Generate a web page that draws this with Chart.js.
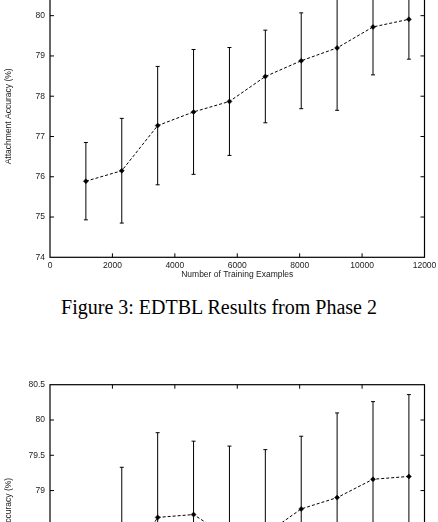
<!DOCTYPE html>
<html>
<head>
<meta charset="utf-8">
<title>EDTBL Results</title>
<script src="https://cdn.jsdelivr.net/npm/chart.js@4/dist/chart.umd.min.js"></script>
<style>
  html, body { margin: 0; padding: 0; background: #fff; overflow: hidden; }
  #page { position: relative; width: 438px; height: 522px; overflow: hidden; background: #fff; }
  .plot { position: absolute; left: 0; width: 438px; height: 320px; }
  #fig-top { top: -40px; }
  #fig-bottom { top: 370px; }
  #caption {
    position: absolute; left: 0; top: 297px; width: 438px;
    text-align: center; white-space: nowrap; color: #000;
    font-family: 'Liberation Serif', 'Times New Roman', serif;
    font-size: 20px; line-height: 20px;
  }
</style>
</head>
<body>
<div id="page">
  <canvas id="fig-top" class="plot" width="438" height="320"></canvas>
  <div id="caption">Figure 3: EDTBL Results from Phase 2</div>
  <canvas id="fig-bottom" class="plot" width="438" height="320"></canvas>
</div>
<script>
// training set sizes (shared by both plots)
var trainSizes = [1150, 2300, 3450, 4600, 5750, 6900, 8050, 9200, 10350, 11500];

// upper plot: Phase 2
var phase2Acc = [75.89, 76.15, 77.27, 77.61, 77.87, 78.49, 78.88, 79.20, 79.72, 79.91];
var phase2Err = [0.96, 1.30, 1.47, 1.55, 1.34, 1.15, 1.19, 1.55, 1.19, 0.99];

// lower plot (only its upper part is on the page)
var lowerAcc = [77.0, 77.8, 78.62, 78.66, 78.33, 78.38, 78.74, 78.90, 79.16, 79.20];
var lowerErr = [1.20, 1.53, 1.20, 1.04, 1.30, 1.20, 1.03, 1.20, 1.10, 1.16];

var xTicks = [0, 2000, 4000, 6000, 8000, 10000, 12000];
var topYTicks = [74, 75, 76, 77, 78, 79, 80, 81];
var lowerYTicks = [76.5, 77, 77.5, 78, 78.5, 79, 79.5, 80, 80.5];

var xTitle = 'Number of Training Examples';
var yTitle = 'Attachment Accuracy (%)';

Chart.defaults.font.family = "'Liberation Sans', Arial, sans-serif";
Chart.defaults.font.size = 8.5;
Chart.defaults.color = '#222';

function toPoints(xs, ys) {
  return xs.map(function (x, i) { return { x: x, y: ys[i] }; });
}

// plain number labels, no thousands separators
function plainLabel(v) { return String(v); }

// gnuplot-like frame with inward ticks on all four sides
var framePlugin = {
  id: 'frame',
  beforeDatasetsDraw: function (chart) {
    var a = chart.chartArea, ctx = chart.ctx;
    var xs = chart.scales.x, ys = chart.scales.y;
    var len = 4;
    ctx.save();
    ctx.strokeStyle = '#000';
    ctx.lineWidth = 1.2;
    ctx.strokeRect(a.left, a.top, a.right - a.left, a.bottom - a.top);
    ctx.lineWidth = 1;
    ctx.beginPath();
    xs.ticks.forEach(function (t) {
      var px = xs.getPixelForValue(t.value);
      if (px <= a.left + 1 || px >= a.right - 1) return;
      ctx.moveTo(px, a.bottom); ctx.lineTo(px, a.bottom - len);
      ctx.moveTo(px, a.top); ctx.lineTo(px, a.top + len);
    });
    ys.ticks.forEach(function (t) {
      var py = ys.getPixelForValue(t.value);
      if (py <= a.top + 1 || py >= a.bottom - 1) return;
      ctx.moveTo(a.left, py); ctx.lineTo(a.left + len, py);
      ctx.moveTo(a.right, py); ctx.lineTo(a.right - len, py);
    });
    ctx.stroke();
    ctx.restore();
  }
};

// vertical error bars with small caps
var errorBarPlugin = {
  id: 'errorBars',
  beforeDatasetsDraw: function (chart) {
    var ctx = chart.ctx, xs = chart.scales.x, ys = chart.scales.y;
    ctx.save();
    ctx.strokeStyle = '#000';
    ctx.lineWidth = 1;
    chart.data.datasets.forEach(function (ds) {
      if (!ds.errors) return;
      ds.data.forEach(function (p, i) {
        var px = xs.getPixelForValue(p.x);
        var hi = ys.getPixelForValue(p.y + ds.errors[i]);
        var lo = ys.getPixelForValue(p.y - ds.errors[i]);
        ctx.beginPath();
        ctx.moveTo(px, hi); ctx.lineTo(px, lo);
        ctx.moveTo(px - 2, hi); ctx.lineTo(px + 2, hi);
        ctx.moveTo(px - 2, lo); ctx.lineTo(px + 2, lo);
        ctx.stroke();
      });
    });
    ctx.restore();
  }
};

function makePlot(id, acc, err, yTicks, padTop, xAxisHeight) {
  var el = document.getElementById(id);
  return new Chart(el, {
    type: 'scatter',
    data: {
      datasets: [{
        data: toPoints(trainSizes, acc),
        errors: err,
        showLine: true,
        borderColor: '#000',
        borderWidth: 1,
        borderDash: [3, 2],
        pointStyle: 'rectRot',
        pointRadius: 2.5,
        pointBackgroundColor: '#000',
        pointBorderColor: '#000',
        pointBorderWidth: 0.5
      }]
    },
    options: {
      responsive: false,
      animation: false,
      events: [],
      layout: { autoPadding: false, padding: { top: padTop, right: 13.5, bottom: 0, left: 0 } },
      plugins: { legend: { display: false }, tooltip: { enabled: false } },
      scales: {
        x: {
          type: 'linear',
          min: xTicks[0],
          max: xTicks[xTicks.length - 1],
          afterBuildTicks: function (s) { s.ticks = xTicks.map(function (v) { return { value: v }; }); },
          afterFit: function (s) { s.height = xAxisHeight; s.paddingLeft = 0; s.paddingRight = 0; },
          grid: { display: false, drawTicks: false },
          border: { display: false },
          ticks: { padding: 3.5, maxRotation: 0, autoSkip: false, callback: plainLabel },
          title: { display: true, text: xTitle, padding: { top: 0, bottom: 0 } }
        },
        y: {
          type: 'linear',
          min: yTicks[0],
          max: yTicks[yTicks.length - 1],
          afterBuildTicks: function (s) { s.ticks = yTicks.map(function (v) { return { value: v }; }); },
          afterFit: function (s) { s.width = 50; s.paddingTop = 0; s.paddingBottom = 0; },
          grid: { display: false, drawTicks: false },
          border: { display: false },
          ticks: { padding: 5, autoSkip: false, callback: plainLabel },
          title: { display: true, text: yTitle, padding: { top: 4, bottom: 0 } }
        }
      }
    },
    plugins: [framePlugin, errorBarPlugin]
  });
}

makePlot('fig-top', phase2Acc, phase2Err, topYTicks, 15.4, 22.7);
makePlot('fig-bottom', lowerAcc, lowerErr, lowerYTicks, 14.7, 23);
</script>
</body>
</html>
